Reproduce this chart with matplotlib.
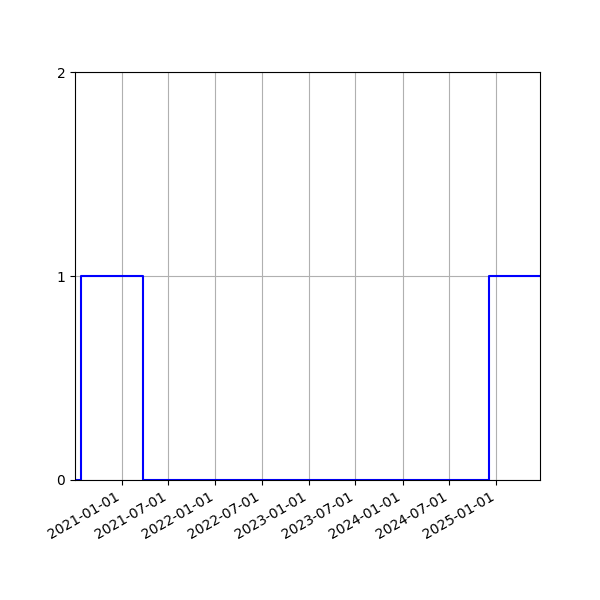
import matplotlib
matplotlib.use("Agg")
import matplotlib.pyplot as plt
import matplotlib.dates as mdates
import pandas as pd

# step change points and values
dates = ["2020-07-02", "2020-07-27", "2021-03-24", "2024-12-02", "2025-06-20"]
values = [0, 1, 0, 1, 1]

x = pd.to_datetime(dates)

fig, ax = plt.subplots(figsize=(6, 6), dpi=100)
ax.step(x, values, where="post", color="blue")
ax.set_xlim(x[0], x[-1])
ax.set_ylim(0, 2)
ax.set_yticks([0, 1, 2])
ax.xaxis.set_major_locator(mdates.MonthLocator(bymonth=[1, 7]))
ax.xaxis.set_major_formatter(mdates.DateFormatter("%Y-%m-%d"))
ax.grid(True)
fig.autofmt_xdate()
fig.savefig("out.png")
